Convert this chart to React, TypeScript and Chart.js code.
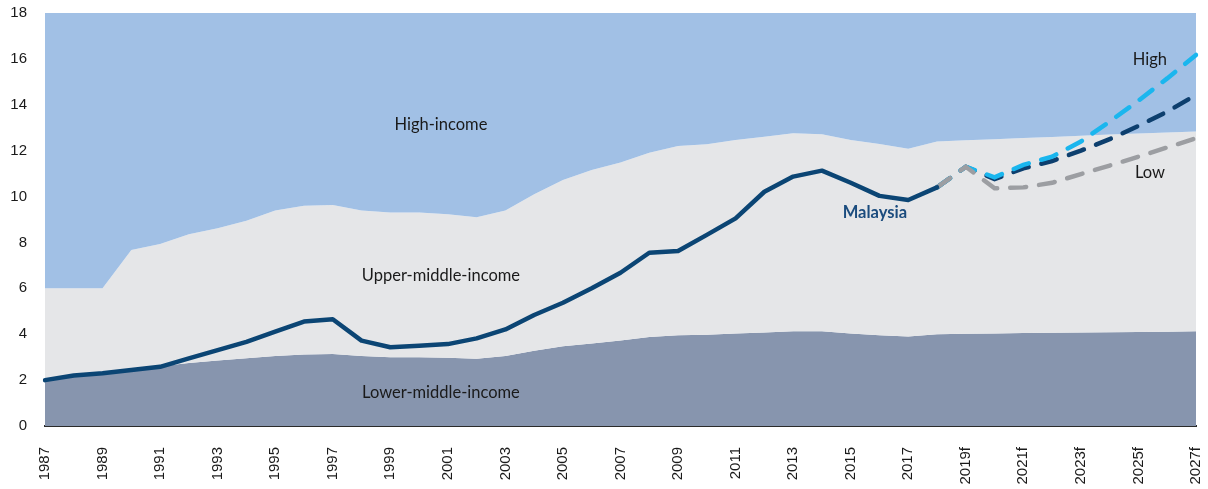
import React, { useEffect, useRef } from "react";
import { Chart, registerables } from "chart.js";

Chart.register(...registerables);

const years: string[] = [
  "1987","1988","1989","1990","1991","1992","1993","1994","1995","1996",
  "1997","1998","1999","2000","2001","2002","2003","2004","2005","2006",
  "2007","2008","2009","2010","2011","2012","2013","2014","2015","2016",
  "2017","2018","2019f","2020f","2021f","2022f","2023f","2024f","2025f","2026f","2027f",
];

const lowerMiddleIncome: number[] = [
  2.0, 2.15, 2.25, 2.4, 2.6, 2.75, 2.85, 2.95, 3.05, 3.12,
  3.14, 3.05, 3.0, 3.0, 2.98, 2.93, 3.05, 3.28, 3.48, 3.6,
  3.73, 3.88, 3.95, 3.98, 4.03, 4.08, 4.13, 4.13, 4.03, 3.96,
  3.9, 4.0, 4.02, 4.03, 4.05, 4.06, 4.08, 4.09, 4.1, 4.11, 4.13,
];

const upperMiddleIncome: number[] = [
  6.0, 6.0, 6.0, 7.67, 7.93, 8.36, 8.62, 8.95, 9.39, 9.6,
  9.63, 9.39, 9.3, 9.3, 9.23, 9.1, 9.39, 10.1, 10.72, 11.16,
  11.48, 11.91, 12.2, 12.28, 12.47, 12.61, 12.76, 12.72, 12.47, 12.29,
  12.08, 12.4, 12.45, 12.5, 12.55, 12.6, 12.65, 12.7, 12.75, 12.79, 12.83,
];

const malaysia: (number | null)[] = [
  2.0, 2.2, 2.3, 2.44, 2.58, 2.95, 3.31, 3.67, 4.11, 4.55,
  4.65, 3.72, 3.43, 3.5, 3.57, 3.82, 4.21, 4.84, 5.37, 6.0,
  6.68, 7.55, 7.63, 8.33, 9.05, 10.21, 10.87, 11.13, 10.6, 10.03,
  9.85, 10.4, null, null, null, null, null, null, null, null, null,
];

const pad31: null[] = Array(31).fill(null);
const baseForecast: (number | null)[] = [...pad31, 10.4, 11.3, 10.76, 11.23, 11.55, 12.0, 12.5, 13.08, 13.7, 14.43];
const highForecast: (number | null)[] = [...pad31, 10.4, 11.3, 10.84, 11.38, 11.74, 12.4, 13.27, 14.18, 15.15, 16.17];
const lowForecast: (number | null)[] = [...pad31, 10.4, 11.3, 10.36, 10.4, 10.6, 10.98, 11.35, 11.74, 12.14, 12.54];

const yTicks: number[] = [0, 2, 4, 6, 8, 10, 12, 14, 16, 18];

const annotationTexts: string[] = ["High-income", "Upper-middle-income", "Lower-middle-income", "Malaysia", "High", "Low"];
const annotationAtIndex: number[] = [13.76, 13.76, 13.76, 28.84, 38.4, 38.4];
const annotationAtValue: number[] = [13.12, 6.54, 1.44, 9.29, 15.95, 11.03];

const FONT = "Lato, 'Open Sans', sans-serif";
const TICK_FONT = "'Liberation Sans', Arial, sans-serif";

const annotationPlugin = {
  id: "annotations",
  afterDatasetsDraw(chart: any) {
    const { ctx, scales } = chart;
    ctx.save();
    ctx.textAlign = "center";
    ctx.textBaseline = "middle";
    annotationTexts.forEach((t, i) => {
      const x = scales.x.getPixelForValue(annotationAtIndex[i]);
      const y = scales.y.getPixelForValue(annotationAtValue[i]);
      if (t === "Malaysia") {
        ctx.font = `bold 16.5px ${FONT}`;
        ctx.fillStyle = "#1B4C7E";
      } else {
        ctx.font = `16.5px ${FONT}`;
        ctx.fillStyle = "#1a1a1a";
      }
      ctx.fillText(t, x, y);
    });
    ctx.restore();
  },
};

export default function App() {
  const ref = useRef<HTMLCanvasElement | null>(null);

  useEffect(() => {
    if (!ref.current) return;
    const dash = {
      borderWidth: 4.5,
      borderDash: [16, 13],
      borderCapStyle: "round" as const,
      pointRadius: 0,
      fill: false,
      tension: 0,
      spanGaps: false,
    };
    const chart = new Chart(ref.current, {
      type: "line",
      data: {
        labels: years,
        datasets: [
          {
            label: "Lower-middle-income",
            data: lowerMiddleIncome,
            backgroundColor: "#8795AE",
            borderWidth: 0,
            pointRadius: 0,
            fill: "origin",
            order: 12,
          },
          {
            label: "Upper-middle-income",
            data: upperMiddleIncome,
            backgroundColor: "#E5E6E8",
            borderWidth: 0,
            pointRadius: 0,
            fill: 0,
            order: 11,
          },
          {
            label: "High-income",
            data: upperMiddleIncome,
            backgroundColor: "#A1C0E5",
            borderWidth: 0,
            pointRadius: 0,
            fill: "end",
            order: 10,
          },
          {
            label: "Base",
            data: baseForecast,
            borderColor: "#0D3F6E",
            ...dash,
            order: 4,
          },
          {
            label: "High",
            data: highForecast,
            borderColor: "#1AB6EE",
            ...dash,
            order: 3,
          },
          {
            label: "Low",
            data: lowForecast,
            borderColor: "#9C9EA2",
            ...dash,
            order: 2,
          },
          {
            label: "Malaysia",
            data: malaysia,
            borderColor: "#0B4574",
            borderWidth: 4.5,
            borderJoinStyle: "round",
            borderCapStyle: "round",
            pointRadius: 0,
            fill: false,
            tension: 0,
            order: 1,
          },
        ],
      },
      options: {
        animation: false,
        responsive: true,
        maintainAspectRatio: false,
        layout: { padding: { top: 13, right: 12, left: 0, bottom: 0 } },
        plugins: {
          legend: { display: false },
          tooltip: { enabled: false },
        },
        scales: {
          x: {
            type: "category",
            offset: false,
            grid: { display: false, drawTicks: false },
            border: { display: true, color: "#2b2b2b", width: 2 },
            ticks: {
              autoSkip: false,
              minRotation: 90,
              maxRotation: 90,
              padding: 21,
              color: "#1a1a1a",
              font: { family: TICK_FONT, size: 15 },
              callback: (_v: any, i: number) => (i % 2 === 0 ? years[i] : ""),
            },
            afterFit: (s: any) => {
              s.height = 63;
              s.paddingLeft = 0;
              s.paddingRight = 0;
            },
          },
          y: {
            min: 0,
            max: 18,
            grid: { display: false, drawTicks: false },
            border: { display: false },
            afterBuildTicks: (s: any) => {
              s.ticks = yTicks.map((v) => ({ value: v }));
            },
            ticks: {
              padding: 18,
              color: "#1a1a1a",
              font: { family: TICK_FONT, size: 15 },
            },
            afterFit: (s: any) => {
              s.width = 45;
              s.paddingTop = 0;
              s.paddingBottom = 0;
            },
          },
        },
      },
      plugins: [annotationPlugin],
    });
    return () => chart.destroy();
  }, []);

  return (
    <div style={{ position: "fixed", left: 0, top: 0, width: 1208, height: 489, background: "#fff" }}>
      <canvas ref={ref} />
    </div>
  );
}
